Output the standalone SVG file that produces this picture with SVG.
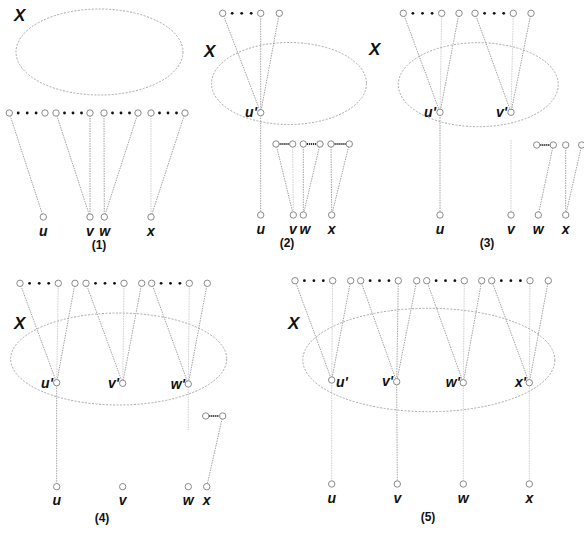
<svg xmlns="http://www.w3.org/2000/svg" width="584" height="533" viewBox="0 0 584 533">
<style>
.bg{fill:#fff}
.el{fill:none;stroke:#a8a8a8;stroke-width:1;stroke-dasharray:2 1.5}
.e{stroke:#999;stroke-width:0.9;stroke-dasharray:1.5 1;fill:none}
.f{stroke:#c8c8c8;stroke-width:0.9;stroke-dasharray:1.5 1;fill:none}
.n{fill:#fff;stroke:#8a8a8a;stroke-width:1}
.d{fill:#111}
.dd{stroke:#333;stroke-width:1.8;stroke-dasharray:1.2 0.8}
.l{font-family:"Liberation Sans",Arial,sans-serif;font-weight:bold;font-style:italic;font-size:14px;fill:#111}
.X{font-family:"Liberation Sans",Arial,sans-serif;font-weight:bold;font-style:italic;font-size:17px;fill:#111}
.cap{font-family:"Liberation Sans",Arial,sans-serif;font-weight:bold;font-size:12px;fill:#111;text-anchor:middle}
</style>
<rect class="bg" x="0" y="0" width="584" height="533"/>

<g id="sets">
<ellipse class="el" cx="99.5" cy="52" rx="83.5" ry="43"/>
<ellipse class="el" cx="289" cy="83.5" rx="77.5" ry="41"/>
<ellipse class="el" cx="478.3" cy="84.7" rx="80" ry="42"/>
<ellipse class="el" cx="118.7" cy="359" rx="108" ry="46"/>
<ellipse class="el" cx="428.8" cy="360" rx="126" ry="51.7"/>
</g>

<g id="connectors">
<line class="e" x1="9.3" y1="113" x2="43.3" y2="217"/>
<line class="e" x1="56" y1="113" x2="90" y2="217"/>
<line class="e" x1="90" y1="113" x2="90" y2="217"/>
<line class="e" x1="104" y1="113" x2="104.3" y2="217"/>
<line class="e" x1="138" y1="113" x2="104.3" y2="217"/>
<line class="f" x1="151" y1="113" x2="151" y2="217"/>
<line class="e" x1="185" y1="113" x2="151" y2="217"/>
<line class="e" x1="222.7" y1="13.3" x2="260.7" y2="112.7"/>
<line class="e" x1="260.7" y1="13.3" x2="260.7" y2="112.7"/>
<line class="e" x1="279.3" y1="13.3" x2="260.7" y2="112.7"/>
<line class="e" x1="260.7" y1="112.7" x2="260.7" y2="215"/>
<line class="e" x1="276" y1="144" x2="293.3" y2="215"/>
<line class="f" x1="292.7" y1="144" x2="293.3" y2="215"/>
<line class="e" x1="303.3" y1="144" x2="303.3" y2="215"/>
<line class="e" x1="320" y1="144" x2="303.3" y2="215"/>
<line class="e" x1="331" y1="144" x2="331.7" y2="215"/>
<line class="e" x1="349.3" y1="144" x2="331.7" y2="215"/>
<line class="e" x1="403.3" y1="13.3" x2="440" y2="112.3"/>
<line class="f" x1="441.7" y1="13.3" x2="440" y2="112.3"/>
<line class="e" x1="459" y1="13.3" x2="440" y2="112.3"/>
<line class="e" x1="475" y1="13.3" x2="511" y2="112.3"/>
<line class="f" x1="513.3" y1="13.3" x2="511" y2="112.3"/>
<line class="e" x1="531" y1="13.3" x2="511" y2="112.3"/>
<line class="e" x1="440" y1="112.3" x2="440" y2="215"/>
<line class="f" x1="511" y1="140" x2="511" y2="215"/>
<line class="e" x1="553.3" y1="145" x2="538.3" y2="215"/>
<line class="e" x1="565.7" y1="145" x2="565.7" y2="215"/>
<line class="e" x1="581.7" y1="145" x2="565.7" y2="215"/>
<line class="e" x1="20" y1="283.3" x2="56.7" y2="382.7"/>
<line class="f" x1="58.3" y1="283.3" x2="56.7" y2="382.7"/>
<line class="e" x1="75" y1="283.3" x2="56.7" y2="382.7"/>
<line class="e" x1="86" y1="283.3" x2="122.7" y2="383.3"/>
<line class="f" x1="124" y1="283.3" x2="122.7" y2="383.3"/>
<line class="e" x1="141.7" y1="283.3" x2="122.7" y2="383.3"/>
<line class="e" x1="151.7" y1="283.3" x2="188.3" y2="384"/>
<line class="f" x1="189.3" y1="283.3" x2="188.3" y2="384"/>
<line class="e" x1="207.3" y1="283.3" x2="188.3" y2="384"/>
<line class="e" x1="56.7" y1="382.7" x2="56.7" y2="486.7"/>
<line class="f" x1="188.3" y1="384" x2="188.3" y2="430"/>
<line class="e" x1="222.7" y1="416" x2="206.7" y2="486.7"/>
<line class="e" x1="295" y1="280.7" x2="331.7" y2="380"/>
<line class="f" x1="332.7" y1="280.7" x2="331.7" y2="380"/>
<line class="e" x1="350.7" y1="280.7" x2="331.7" y2="380"/>
<line class="e" x1="360.7" y1="280.7" x2="396.7" y2="381.7"/>
<line class="e" x1="398.3" y1="280.7" x2="396.7" y2="381.7"/>
<line class="e" x1="416.7" y1="280.7" x2="396.7" y2="381.7"/>
<line class="e" x1="426.7" y1="280.7" x2="463.3" y2="382.7"/>
<line class="f" x1="464.3" y1="280.7" x2="463.3" y2="382.7"/>
<line class="e" x1="481.7" y1="280.7" x2="463.3" y2="382.7"/>
<line class="e" x1="491.7" y1="280.7" x2="529.3" y2="382.7"/>
<line class="f" x1="530" y1="280.7" x2="529.3" y2="382.7"/>
<line class="e" x1="548.3" y1="280.7" x2="529.3" y2="382.7"/>
<line class="f" x1="331.7" y1="380" x2="331.7" y2="484"/>
<line class="e" x1="396.7" y1="381.7" x2="397.3" y2="484"/>
<line class="f" x1="463.3" y1="382.7" x2="463.3" y2="484"/>
<line class="f" x1="529.3" y1="382.7" x2="529.3" y2="484"/>
</g>

<g id="ellipses-dots">
<circle class="d" cx="18.2" cy="113" r="1.4"/><circle class="d" cx="27.2" cy="113" r="1.4"/><circle class="d" cx="36.1" cy="113" r="1.4"/>
<circle class="d" cx="64.5" cy="113" r="1.4"/><circle class="d" cx="73" cy="113" r="1.4"/><circle class="d" cx="81.5" cy="113" r="1.4"/>
<circle class="d" cx="112.5" cy="113" r="1.4"/><circle class="d" cx="121" cy="113" r="1.4"/><circle class="d" cx="129.5" cy="113" r="1.4"/>
<circle class="d" cx="159.5" cy="113" r="1.4"/><circle class="d" cx="168" cy="113" r="1.4"/><circle class="d" cx="176.5" cy="113" r="1.4"/>
<circle class="d" cx="232.2" cy="13.3" r="1.4"/><circle class="d" cx="241.7" cy="13.3" r="1.4"/><circle class="d" cx="251.2" cy="13.3" r="1.4"/>
<circle class="d" cx="412.9" cy="13.3" r="1.4"/><circle class="d" cx="422.5" cy="13.3" r="1.4"/><circle class="d" cx="432.1" cy="13.3" r="1.4"/>
<circle class="d" cx="484.6" cy="13.3" r="1.4"/><circle class="d" cx="494.2" cy="13.3" r="1.4"/><circle class="d" cx="503.7" cy="13.3" r="1.4"/>
<circle class="d" cx="29.6" cy="283.3" r="1.4"/><circle class="d" cx="39.2" cy="283.3" r="1.4"/><circle class="d" cx="48.7" cy="283.3" r="1.4"/>
<circle class="d" cx="95.5" cy="283.3" r="1.4"/><circle class="d" cx="105" cy="283.3" r="1.4"/><circle class="d" cx="114.5" cy="283.3" r="1.4"/>
<circle class="d" cx="161.1" cy="283.3" r="1.4"/><circle class="d" cx="170.5" cy="283.3" r="1.4"/><circle class="d" cx="179.9" cy="283.3" r="1.4"/>
<circle class="d" cx="304.4" cy="280.7" r="1.4"/><circle class="d" cx="313.9" cy="280.7" r="1.4"/><circle class="d" cx="323.3" cy="280.7" r="1.4"/>
<circle class="d" cx="370.1" cy="280.7" r="1.4"/><circle class="d" cx="379.5" cy="280.7" r="1.4"/><circle class="d" cx="388.9" cy="280.7" r="1.4"/>
<circle class="d" cx="436.1" cy="280.7" r="1.4"/><circle class="d" cx="445.5" cy="280.7" r="1.4"/><circle class="d" cx="454.9" cy="280.7" r="1.4"/>
<circle class="d" cx="501.3" cy="280.7" r="1.4"/><circle class="d" cx="510.9" cy="280.7" r="1.4"/><circle class="d" cx="520.4" cy="280.7" r="1.4"/>
<line class="dd" x1="279.5" y1="144" x2="289.2" y2="144"/>
<line class="dd" x1="306.8" y1="144" x2="316.5" y2="144"/>
<line class="dd" x1="334.5" y1="144" x2="345.8" y2="144"/>
<line class="dd" x1="540.2" y1="145" x2="549.8" y2="145"/>
<line class="dd" x1="209.2" y1="416" x2="219.2" y2="416"/>
</g>

<g id="p1-top">
<circle class="n" cx="9.3" cy="113" r="3.2"/><circle class="n" cx="45" cy="113" r="3.2"/>
<circle class="n" cx="56" cy="113" r="3.2"/><circle class="n" cx="90" cy="113" r="3.2"/>
<circle class="n" cx="104" cy="113" r="3.2"/><circle class="n" cx="138" cy="113" r="3.2"/>
<circle class="n" cx="151" cy="113" r="3.2"/><circle class="n" cx="185" cy="113" r="3.2"/>
</g>
<g id="p1-u"><circle class="n" cx="43.3" cy="217" r="3.2"/><text class="l" x="43.3" y="236" text-anchor="middle">u</text></g>
<g id="p1-v"><circle class="n" cx="90" cy="217" r="3.2"/><text class="l" x="90" y="236" text-anchor="middle">v</text></g>
<g id="p1-w"><circle class="n" cx="104.3" cy="217" r="3.2"/><text class="l" x="104.8" y="236" text-anchor="middle">w</text></g>
<g id="p1-x"><circle class="n" cx="151" cy="217" r="3.2"/><text class="l" x="151" y="236" text-anchor="middle">x</text></g>
<g id="p1-X"><text class="X" x="14" y="21">X</text></g>
<text class="cap" x="99" y="249">(1)</text>

<g id="p2-top">
<circle class="n" cx="222.7" cy="13.3" r="3.2"/><circle class="n" cx="260.7" cy="13.3" r="3.2"/><circle class="n" cx="279.3" cy="13.3" r="3.2"/>
</g>
<g id="p2-u1"><circle class="n" cx="260.7" cy="112.7" r="3.2"/><text class="l" x="257" y="117" text-anchor="end">u'</text></g>
<g id="p2-row2">
<circle class="n" cx="276" cy="144" r="3.2"/><circle class="n" cx="292.7" cy="144" r="3.2"/>
<circle class="n" cx="303.3" cy="144" r="3.2"/><circle class="n" cx="320" cy="144" r="3.2"/>
<circle class="n" cx="331" cy="144" r="3.2"/><circle class="n" cx="349.3" cy="144" r="3.2"/>
</g>
<g id="p2-u"><circle class="n" cx="260.7" cy="215" r="3.2"/><text class="l" x="260.7" y="234" text-anchor="middle">u</text></g>
<g id="p2-v"><circle class="n" cx="293.3" cy="215" r="3.2"/><text class="l" x="293" y="234" text-anchor="middle">v</text></g>
<g id="p2-w"><circle class="n" cx="303.3" cy="215" r="3.2"/><text class="l" x="305" y="234" text-anchor="middle">w</text></g>
<g id="p2-x"><circle class="n" cx="331.7" cy="215" r="3.2"/><text class="l" x="331.7" y="234" text-anchor="middle">x</text></g>
<g id="p2-X"><text class="X" x="204" y="57">X</text></g>
<text class="cap" x="287" y="247">(2)</text>

<g id="p3-top">
<circle class="n" cx="403.3" cy="13.3" r="3.2"/><circle class="n" cx="441.7" cy="13.3" r="3.2"/><circle class="n" cx="459" cy="13.3" r="3.2"/>
<circle class="n" cx="475" cy="13.3" r="3.2"/><circle class="n" cx="513.3" cy="13.3" r="3.2"/><circle class="n" cx="531" cy="13.3" r="3.2"/>
</g>
<g id="p3-u1"><circle class="n" cx="440" cy="112.3" r="3.2"/><text class="l" x="436" y="117" text-anchor="end">u'</text></g>
<g id="p3-v1"><circle class="n" cx="511" cy="112.3" r="3.2"/><text class="l" x="507" y="117" text-anchor="end">v'</text></g>
<g id="p3-row2">
<circle class="n" cx="536.7" cy="145" r="3.2"/><circle class="n" cx="553.3" cy="145" r="3.2"/>
<circle class="n" cx="565.7" cy="145" r="3.2"/><circle class="n" cx="581.7" cy="145" r="3.2"/>
</g>
<g id="p3-u"><circle class="n" cx="440" cy="215" r="3.2"/><text class="l" x="440" y="234" text-anchor="middle">u</text></g>
<g id="p3-v"><circle class="n" cx="511" cy="215" r="3.2"/><text class="l" x="511" y="234" text-anchor="middle">v</text></g>
<g id="p3-w"><circle class="n" cx="538.3" cy="215" r="3.2"/><text class="l" x="538.3" y="234" text-anchor="middle">w</text></g>
<g id="p3-x"><circle class="n" cx="565.7" cy="215" r="3.2"/><text class="l" x="565.7" y="234" text-anchor="middle">x</text></g>
<g id="p3-X"><text class="X" x="369" y="55">X</text></g>
<text class="cap" x="487" y="247">(3)</text>

<g id="p4-top">
<circle class="n" cx="20" cy="283.3" r="3.2"/><circle class="n" cx="58.3" cy="283.3" r="3.2"/><circle class="n" cx="75" cy="283.3" r="3.2"/>
<circle class="n" cx="86" cy="283.3" r="3.2"/><circle class="n" cx="124" cy="283.3" r="3.2"/><circle class="n" cx="141.7" cy="283.3" r="3.2"/>
<circle class="n" cx="151.7" cy="283.3" r="3.2"/><circle class="n" cx="189.3" cy="283.3" r="3.2"/><circle class="n" cx="207.3" cy="283.3" r="3.2"/>
</g>
<g id="p4-u1"><circle class="n" cx="56.7" cy="382.7" r="3.2"/><text class="l" x="53" y="388" text-anchor="end">u'</text></g>
<g id="p4-v1"><circle class="n" cx="122.7" cy="383.3" r="3.2"/><text class="l" x="119" y="388" text-anchor="end">v'</text></g>
<g id="p4-w1"><circle class="n" cx="188.3" cy="384" r="3.2"/><text class="l" x="185" y="389" text-anchor="end">w'</text></g>
<g id="p4-row2"><circle class="n" cx="205.7" cy="416" r="3.2"/><circle class="n" cx="222.7" cy="416" r="3.2"/></g>
<g id="p4-u"><circle class="n" cx="56.7" cy="486.7" r="3.2"/><text class="l" x="56.7" y="505" text-anchor="middle">u</text></g>
<g id="p4-v"><circle class="n" cx="122.7" cy="486.7" r="3.2"/><text class="l" x="122.7" y="505" text-anchor="middle">v</text></g>
<g id="p4-w"><circle class="n" cx="188.3" cy="486.7" r="3.2"/><text class="l" x="188.3" y="505" text-anchor="middle">w</text></g>
<g id="p4-x"><circle class="n" cx="206.7" cy="486.7" r="3.2"/><text class="l" x="206.7" y="505" text-anchor="middle">x</text></g>
<g id="p4-X"><text class="X" x="14" y="329">X</text></g>
<text class="cap" x="102" y="522">(4)</text>

<g id="p5-top">
<circle class="n" cx="295" cy="280.7" r="3.2"/><circle class="n" cx="332.7" cy="280.7" r="3.2"/><circle class="n" cx="350.7" cy="280.7" r="3.2"/>
<circle class="n" cx="360.7" cy="280.7" r="3.2"/><circle class="n" cx="398.3" cy="280.7" r="3.2"/><circle class="n" cx="416.7" cy="280.7" r="3.2"/>
<circle class="n" cx="426.7" cy="280.7" r="3.2"/><circle class="n" cx="464.3" cy="280.7" r="3.2"/><circle class="n" cx="481.7" cy="280.7" r="3.2"/>
<circle class="n" cx="491.7" cy="280.7" r="3.2"/><circle class="n" cx="530" cy="280.7" r="3.2"/><circle class="n" cx="548.3" cy="280.7" r="3.2"/>
</g>
<g id="p5-u1"><circle class="n" cx="331.7" cy="380" r="3.2"/><text class="l" x="336" y="387">u'</text></g>
<g id="p5-v1"><circle class="n" cx="396.7" cy="381.7" r="3.2"/><text class="l" x="393" y="386" text-anchor="end">v'</text></g>
<g id="p5-w1"><circle class="n" cx="463.3" cy="382.7" r="3.2"/><text class="l" x="460" y="387" text-anchor="end">w'</text></g>
<g id="p5-x1"><circle class="n" cx="529.3" cy="382.7" r="3.2"/><text class="l" x="526" y="387" text-anchor="end">x'</text></g>
<g id="p5-u"><circle class="n" cx="331.7" cy="484" r="3.2"/><text class="l" x="331.7" y="503" text-anchor="middle">u</text></g>
<g id="p5-v"><circle class="n" cx="397.3" cy="484" r="3.2"/><text class="l" x="397.3" y="503" text-anchor="middle">v</text></g>
<g id="p5-w"><circle class="n" cx="463.3" cy="484" r="3.2"/><text class="l" x="463.3" y="503" text-anchor="middle">w</text></g>
<g id="p5-x"><circle class="n" cx="529.3" cy="484" r="3.2"/><text class="l" x="529.3" y="503" text-anchor="middle">x</text></g>
<g id="p5-X"><text class="X" x="288" y="329">X</text></g>
<text class="cap" x="428" y="521">(5)</text>
</svg>
